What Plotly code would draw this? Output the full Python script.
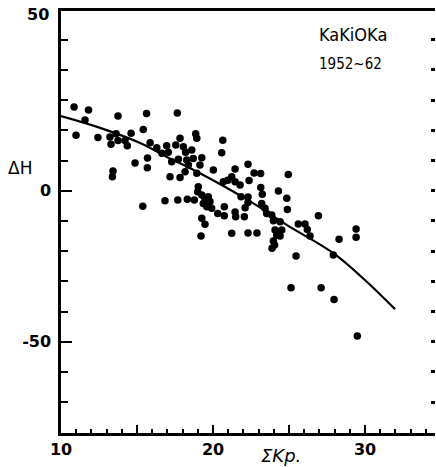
import plotly.graph_objects as go

# Scatter data: Sum Kp (x) vs Delta H (y)
kp = [
    10.86, 11.81, 11.58, 13.75, 15.63, 10.99, 12.43, 13.22, 13.62, 14.61, 15.41, 13.29,
    13.75, 14.21, 14.36, 15.86, 16.30, 15.69, 14.87, 15.68, 13.42, 13.38, 15.38,
    17.65, 18.86, 18.93, 20.64, 17.83, 17.55, 16.95, 18.05, 18.60, 16.63, 17.06, 18.20,
    20.57, 19.26, 18.70, 17.72, 17.28, 18.27, 18.38, 19.14, 20.02, 21.45, 22.30,
    17.17, 17.83, 16.84, 17.68, 18.31, 18.77, 18.93, 18.16, 20.68, 20.97, 21.23, 21.45,
    21.78, 22.37, 21.84, 19.03, 18.99, 19.26, 19.47, 19.69, 19.80, 19.36, 19.59, 19.91,
    20.31, 20.74, 20.74, 21.45, 21.49, 22.06, 22.11, 22.30, 22.30, 19.26, 19.47, 19.21,
    21.23, 22.30, 22.89,
    22.70, 23.13, 24.95, 23.14, 23.24, 24.30, 24.85, 24.89, 23.20, 23.42, 23.53, 23.86,
    23.97, 24.41, 26.93, 25.61, 26.05, 26.20, 26.38, 24.08, 24.30, 24.52, 24.19, 24.41,
    23.97, 24.05, 23.88, 28.29, 29.41, 29.41,
    25.46, 27.91, 25.13, 27.11, 27.96, 29.49,
]
dh = [
    27.7, 26.7, 23.4, 24.7, 25.6, 18.4, 17.6, 17.8, 18.9, 19.0, 20.3, 15.4,
    16.6, 16.6, 14.9, 15.9, 14.2, 10.8, 9.2, 7.6, 6.5, 4.6, -5.1,
    25.7, 18.9, 17.4, 16.7, 17.4, 15.1, 14.9, 14.6, 13.5, 12.4, 12.7, 12.7,
    12.6, 10.9, 10.7, 10.4, 9.6, 10.2, 8.5, 8.5, 6.9, 7.2, 8.8,
    4.6, 4.4, -3.3, -3.1, -2.8, -3.1, 5.8, 6.3, 3.0, 3.5, 4.6, 3.0,
    1.9, 3.4, -2.0, 1.3, -0.3, -1.4, -2.5, -2.0, -3.6, -4.2, -5.3, -5.8,
    -7.5, -5.3, -8.3, -7.0, -8.6, -8.6, -5.6, -2.1, -3.9, -9.1, -11.1, -15.0,
    -14.1, -14.0, -14.0,
    5.9, 5.7, 5.4, 1.1, -1.2, -0.1, -2.5, -6.2, -4.2, -5.8, -7.5, -8.0,
    -9.9, -10.3, -8.3, -11.0, -11.0, -12.8, -15.0, -13.0, -13.6, -13.0, -14.7, -15.0,
    -16.6, -18.0, -19.0, -16.1, -12.7, -15.4,
    -21.6, -21.3, -32.1, -32.1, -36.0, -48.1,
]

# Fitted curve
curve_kp = [10.0, 12.57, 15.2, 16.97, 19.14, 22.63, 24.87, 27.89, 30.13, 31.97]
curve_dh = [24.7, 20.8, 15.8, 11.2, 5.8, -4.1, -11.4, -20.6, -30.2, -39.2]

# Axis ticks / labels
x_minor_ticks = list(range(10, 35))
x_major_ticks = [15, 20, 25, 30]
x_labels = {10: "10", 20: "20", 30: "30"}
y_ticks = list(range(-80, 60, 10))
y_major_ticks = [-50, 0]
y_labels = {-50: "-50", 0: "0"}
top_label = "50"

X_RANGE = [10, 34.6]
Y_RANGE = [-80.2, 59.5]

fig = go.Figure()
fig.add_trace(go.Scatter(
    x=curve_kp, y=curve_dh, mode="lines",
    line=dict(color="black", width=2.2, shape="spline", smoothing=1.0),
    showlegend=False, hoverinfo="skip",
))
fig.add_trace(go.Scatter(
    x=kp, y=dh, mode="markers",
    marker=dict(color="black", size=7.5),
    showlegend=False,
))
# invisible helper traces so the overlay tick axes get drawn
for xa, ya in [("x2", "y"), ("x", "y2"), ("x", "y3")]:
    fig.add_trace(go.Scatter(x=[20], y=[0], xaxis=xa, yaxis=ya, mode="markers",
                             marker=dict(opacity=0), showlegend=False, hoverinfo="skip"))

tick_font = dict(family="DejaVu Sans", size=16, color="black", weight="bold")
common = dict(showgrid=False, zeroline=False, automargin=False)

fig.update_layout(
    width=436, height=467,
    margin=dict(l=61, r=1, t=11, b=34),
    paper_bgcolor="white", plot_bgcolor="white",
    xaxis=dict(
        range=X_RANGE, **common,
        showline=True, linecolor="black", linewidth=2.5, mirror=True,
        tickmode="array", tickvals=x_minor_ticks,
        ticktext=[x_labels.get(v, "") for v in x_minor_ticks],
        ticks="inside", ticklen=4, tickwidth=1.5, tickcolor="black",
        tickfont=tick_font,
    ),
    xaxis2=dict(
        range=X_RANGE, **common, overlaying="x", side="bottom", anchor="y",
        showline=False, showticklabels=False,
        tickmode="array", tickvals=x_major_ticks,
        ticks="inside", ticklen=8, tickwidth=2, tickcolor="black",
    ),
    yaxis=dict(
        range=Y_RANGE, **common,
        showline=True, linecolor="black", linewidth=2.5,
        tickmode="array", tickvals=y_ticks,
        ticktext=[y_labels.get(v, "") for v in y_ticks],
        ticks="inside", ticklen=7, tickwidth=1.8, tickcolor="black",
        tickfont=tick_font, ticklabelstandoff=4,
    ),
    yaxis2=dict(
        range=Y_RANGE, **common, overlaying="y", side="right", anchor="x",
        showline=False, showticklabels=False,
        tickmode="array", tickvals=y_ticks,
        ticks="inside", ticklen=4, tickwidth=2.5, tickcolor="black",
    ),
    yaxis3=dict(
        range=Y_RANGE, **common, overlaying="y", side="left", anchor="x",
        showline=False, showticklabels=False,
        tickmode="array", tickvals=y_major_ticks,
        ticks="inside", ticklen=11, tickwidth=2, tickcolor="black",
    ),
    annotations=[
        dict(text=top_label, xref="paper", yref="y", x=0, y=Y_RANGE[1], xanchor="right",
             yanchor="middle", xshift=-10, yshift=-3, showarrow=False,
             font=tick_font),
        dict(text="ΔH", xref="paper", yref="y", x=0, y=7.5, xanchor="right",
             yanchor="middle", xshift=-27, showarrow=False,
             font=dict(family="DejaVu Sans", size=17, color="black")),
        dict(text="<i>ΣKp.</i>", xref="x", yref="paper", x=24.5, y=0, xanchor="center",
             yanchor="top", yshift=-10, showarrow=False,
             font=dict(family="DejaVu Sans", size=18, color="black")),
        dict(text="KaKiOKa", xref="x", yref="y", x=26.85, y=51.6, xanchor="left",
             yanchor="middle", showarrow=False,
             font=dict(family="DejaVu Sans Condensed", size=18, color="black")),
        dict(text="1952~62", xref="x", yref="y", x=26.85, y=42, xanchor="left",
             yanchor="middle", showarrow=False,
             font=dict(family="DejaVu Sans Condensed", size=15, color="black")),
    ],
)

fig.write_html("out.html", config={"displayModeBar": False},
               post_script="document.body.style.margin='0';")
